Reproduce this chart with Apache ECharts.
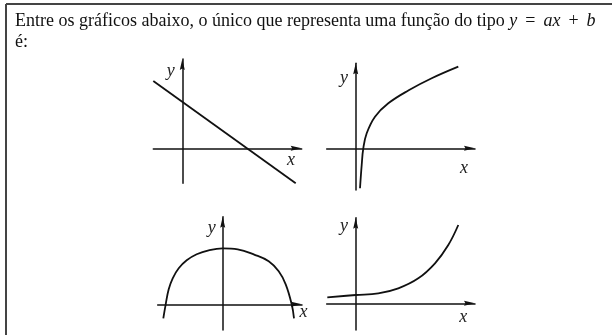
<!DOCTYPE html>
<html>
<head>
<meta charset="utf-8">
<script src="https://cdn.jsdelivr.net/npm/echarts@6/dist/echarts.min.js"></script>
<style>
  html, body { margin: 0; padding: 0; background: #fff; }
  #chart { width: 612px; height: 335px; }
</style>
</head>
<body>
<div id="chart"></div>
<script>
// values (units: one tenth of a pixel grid, origin at the axes crossing)
const lineData = [[-2.9, 6.73], [11.34, -3.5]];
const logData = [[0.43, -4.0], [0.6, -1.67], [0.76, 0], [1.1, 1.5], [1.93, 3.16], [3.26, 4.5], [5.3, 5.8], [7.6, 7.0], [10.26, 8.16]];
const capData = [[-5.94, -1.4], [-5.7, 0], [-5.4, 1.5], [-5.0, 2.6], [-4.4, 3.6], [-3.6, 4.4], [-2.6, 5.0], [-1.4, 5.4], [0, 5.6],
  [1.5, 5.5], [3.2, 4.95], [4.6, 4.3], [5.6, 3.3], [6.3, 2.0], [6.9, 0], [7.13, -1.4]];
const expData = [[-2.84, 0.6], [0, 0.83], [2.26, 1.0], [4.26, 1.5], [6.26, 2.5], [7.93, 4.0], [9.26, 5.83], [10.26, 7.83]];

const xRanges = [[-2.9, 11.94], [-2.9, 11.93], [-6.5, 7.93], [-2.9, 11.93]];
const yRanges = [[-3.5, 8.93], [-4.17, 8.5], [-2.57, 8.76], [-2.67, 8.56]];
const axisNames = ['x', 'y'];
const questionText = 'Entre os gráficos abaixo, o único que representa uma função do tipo {v|y}{o|=}{v|ax}{o|+}{v|b}\né:';

// layout: where each origin sits, and how far the axis letters sit from the arrow tips
const PX = 10;
const panels = [
  { ox: 182.3, oy: 148.3, xName: [-10.7, 11.7], yName: [-11.6, 12] },
  { ox: 355.7, oy: 148.3, xName: [-11, 19.7], yName: [-11.7, 14.5] },
  { ox: 222.7, oy: 304.3, xName: [1.5, 7.2], yName: [-11, 11.5] },
  { ox: 355.7, oy: 303.3, xName: [-11.7, 13.4], yName: [-11.7, 8.5] }
];
const seriesData = [lineData, logData, capData, expData];

const INK = '#111';
const ARROW = 'path://M0 0L2.5 11L0 9.6L-2.5 11Z';
const FS = 18;
const nameFont = { fontFamily: 'Liberation Serif', fontStyle: 'italic', fontSize: FS, color: '#222' };

const chart = echarts.init(document.getElementById('chart'), null, { renderer: 'canvas' });

const grids = panels.map((p, i) => ({
  left: p.ox + xRanges[i][0] * PX,
  top: p.oy - yRanges[i][1] * PX,
  width: (xRanges[i][1] - xRanges[i][0]) * PX,
  height: (yRanges[i][1] - yRanges[i][0]) * PX
}));

const baseAxis = {
  type: 'value',
  axisLine: {
    show: true,
    onZero: true,
    symbol: ['none', ARROW],
    symbolSize: [5, 11],
    symbolOffset: [0, -5.5],
    lineStyle: { color: INK, width: 1.5 }
  },
  axisTick: { show: false },
  axisLabel: { show: false },
  splitLine: { show: false },
  nameLocation: 'end'
};

// x letter: box top on the axis, baseline pushed down through the line height
const xAxes = panels.map((p, i) => Object.assign({}, baseAxis, {
  gridIndex: i,
  min: xRanges[i][0],
  max: xRanges[i][1],
  name: axisNames[0],
  nameGap: p.xName[0],
  nameTextStyle: Object.assign({}, nameFont, {
    align: 'center',
    verticalAlign: 'top',
    lineHeight: Math.max(2, 2 * p.xName[1] + 1)
  })
}));

const yAxes = panels.map((p, i) => Object.assign({}, baseAxis, {
  gridIndex: i,
  min: yRanges[i][0],
  max: yRanges[i][1],
  name: axisNames[1],
  nameGap: -p.yName[1],
  nameTextStyle: Object.assign({}, nameFont, {
    align: 'center',
    verticalAlign: 'middle',
    padding: [0, -p.yName[0] * 2, 0, 0]
  })
}));

chart.setOption({
  animation: false,
  backgroundColor: '#fff',
  title: {
    left: 15,
    top: 11,
    padding: 0,
    text: questionText,
    textStyle: {
      fontFamily: 'Liberation Serif',
      fontSize: 18,
      fontWeight: 'normal',
      color: '#111',
      lineHeight: 21,
      rich: {
        v: { fontFamily: 'Liberation Serif', fontStyle: 'italic', fontSize: 18, color: '#111', lineHeight: 21 },
        o: { fontFamily: 'Liberation Serif', fontSize: 18, color: '#111', lineHeight: 21, padding: [0, 8, 0, 8] }
      }
    }
  },
  graphic: [
    { type: 'line', shape: { x1: 6, y1: 4, x2: 612, y2: 4 }, style: { stroke: '#444', lineWidth: 2 } },
    { type: 'line', shape: { x1: 6, y1: 4, x2: 6, y2: 335 }, style: { stroke: '#444', lineWidth: 2 } }
  ],
  grid: grids,
  xAxis: xAxes,
  yAxis: yAxes,
  series: seriesData.map((d, i) => ({
    type: 'line',
    xAxisIndex: i,
    yAxisIndex: i,
    data: d,
    showSymbol: false,
    smooth: i === 0 ? false : 0.4,
    clip: false,
    lineStyle: { color: INK, width: 1.8 }
  }))
});
</script>
</body>
</html>
